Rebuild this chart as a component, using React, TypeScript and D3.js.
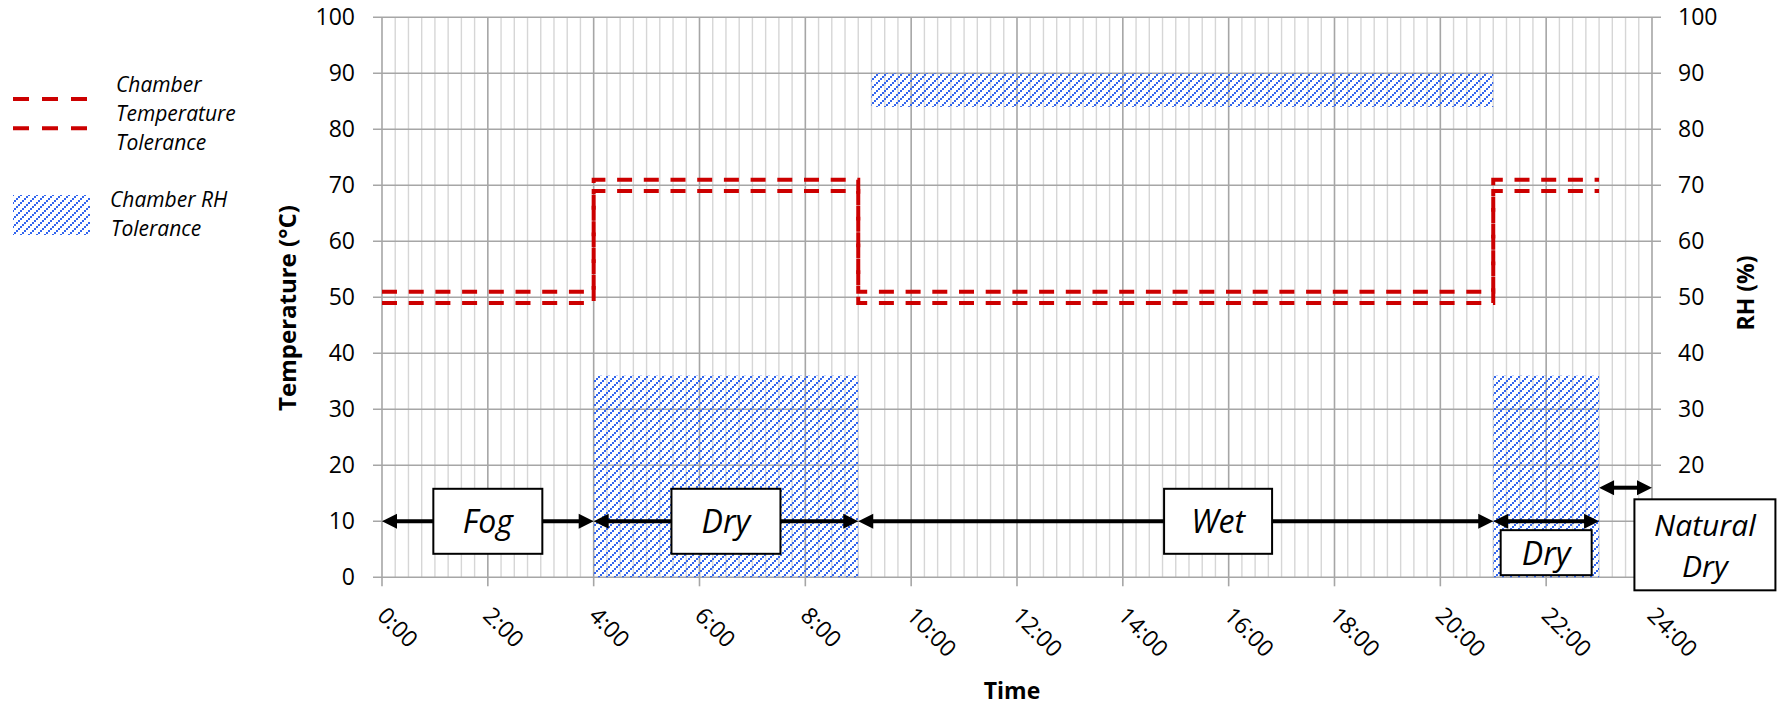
import React from 'react';
import * as d3 from 'd3';

// ---- data ----
const xTickHours = [0, 2, 4, 6, 8, 10, 12, 14, 16, 18, 20, 22, 24];
const xTickLabels = ['0:00', '2:00', '4:00', '6:00', '8:00', '10:00', '12:00', '14:00', '16:00', '18:00', '20:00', '22:00', '24:00'];
const yTicks = [0, 10, 20, 30, 40, 50, 60, 70, 80, 90, 100];

const tempTimes = [0, 4, 4, 9, 9, 21, 21, 23];
const tempUpper = [51, 51, 71, 71, 51, 51, 71, 71];
const tempLower = [49, 49, 69, 69, 49, 49, 69, 69];

const rhStart = [4, 9.25, 21];
const rhEnd = [9, 21, 23];
const rhLow = [0, 84, 0];
const rhHigh = [36, 90, 36];

const phaseNames = ['Fog', 'Dry', 'Wet', 'Dry', 'Natural Dry'];
const phaseStart = [0, 4, 9, 21, 23];
const phaseEnd = [4, 9, 21, 23, 24];
const phaseLevel = [10, 10, 10, 10, 16];
const labelHour = [2, 6.5, 15.8, 22, 25];
const labelLevel = [10, 10, 10, 4.4, 5.8];

export default function App() {
  const W = 1781, H = 705;
  const x = d3.scaleLinear().domain([0, 24]).range([382, 1652]);
  const y = d3.scaleLinear().domain([0, 100]).range([577.3, 17.3]);
  const gridHours = d3.range(0, 24.001, 0.25);
  const font = "'Open Sans', sans-serif";

  const line = d3.line<number>().x((d, i) => x(tempTimes[i])).y(d => y(d));

  const boxSizes = [
    [109, 65], [109, 65], [108, 65], [91, 45], [141, 91],
  ];

  // the "Natural Dry" label box sits over the right axis and hides labels there
  const nd = phaseNames.length - 1;
  const ndTop = y(labelLevel[nd]) - boxSizes[nd][1] / 2;
  const ndBottom = y(labelLevel[nd]) + boxSizes[nd][1] / 2;
  const rightVisible = yTicks.filter(t => y(t) + 8 < ndTop || y(t) - 8 > ndBottom);

  const arrow = (x1: number, x2: number, yy: number, key: string) => {
    const hl = 15, hw = 7.5;
    return (
      <g key={key}>
        <line x1={x1 + hl - 2} x2={x2 - hl + 2} y1={yy} y2={yy} stroke="#000" strokeWidth={4} />
        <path d={`M${x1},${yy} L${x1 + hl},${yy - hw} L${x1 + hl},${yy + hw} Z`} fill="#000" />
        <path d={`M${x2},${yy} L${x2 - hl},${yy - hw} L${x2 - hl},${yy + hw} Z`} fill="#000" />
      </g>
    );
  };

  return (
    <svg width={W} height={H} style={{ position: 'absolute', left: 0, top: 0, background: '#fff' }}>
      <defs>
        <pattern id="hatch" patternUnits="userSpaceOnUse" width={8} height={8}>
          <rect x={0} y={6} width={2} height={2} fill="#3366ee" />
          <rect x={2} y={4} width={2} height={2} fill="#3366ee" />
          <rect x={4} y={2} width={2} height={2} fill="#3366ee" />
          <rect x={6} y={0} width={2} height={2} fill="#3366ee" />
        </pattern>
      </defs>

      {/* vertical grid */}
      {gridHours.map((h, i) => {
        const major = Math.abs(h / 2 - Math.round(h / 2)) < 1e-6;
        return (
          <line key={'vg' + i} x1={x(h)} x2={x(h)} y1={y(100)} y2={y(0)}
            stroke={major ? '#a6a6a6' : '#d6d6d6'} strokeWidth={major ? 1.6 : 1.4} />
        );
      })}
      {/* horizontal grid */}
      {yTicks.map(t => (
        <line key={'hg' + t} x1={x(0) - 9} x2={x(24) + 9} y1={y(t)} y2={y(t)} stroke="#a6a6a6" strokeWidth={1.6} />
      ))}
      {/* x ticks */}
      {xTickHours.map(h => (
        <line key={'xt' + h} x1={x(h)} x2={x(h)} y1={y(0)} y2={y(0) + 9} stroke="#a6a6a6" strokeWidth={1.6} />
      ))}

      {/* RH tolerance hatch */}
      {rhStart.map((s, i) => (
        <rect key={'rh' + i} x={x(s)} width={x(rhEnd[i]) - x(s)} y={y(rhHigh[i])} height={y(rhLow[i]) - y(rhHigh[i])} fill="url(#hatch)" />
      ))}

      {/* temperature tolerance */}
      <path d={line(tempUpper) || ''} fill="none" stroke="#cc0000" strokeWidth={4} strokeDasharray="15 11.7" />
      <path d={line(tempLower) || ''} fill="none" stroke="#cc0000" strokeWidth={4} strokeDasharray="15 11.7" />

      {/* left y labels */}
      {yTicks.map(t => (
        <text key={'yl' + t} x={355} y={y(t) + 8} textAnchor="end" fontFamily={font} fontSize={23} fill="#000">{t}</text>
      ))}
      {/* right y labels */}
      {rightVisible.map(t => (
        <text key={'yr' + t} x={1678} y={y(t) + 8} textAnchor="start" fontFamily={font} fontSize={23} fill="#000">{t}</text>
      ))}
      {/* x labels */}
      {xTickHours.map((h, i) => (
        <text key={'xl' + h} transform={`translate(${x(h) - 6},${617}) rotate(45)`} fontFamily={font} fontSize={23} fill="#000">{xTickLabels[i]}</text>
      ))}

      {/* phase arrows */}
      {phaseStart.map((s, i) => arrow(x(s), x(phaseEnd[i]), y(phaseLevel[i]), 'ar' + i))}

      {/* phase labels */}
      {phaseNames.map((n, i) => {
        const cx = x(labelHour[i]);
        const cy = y(labelLevel[i]);
        const [bw, bh] = boxSizes[i];
        const lines = n === 'Natural Dry' ? ['Natural', 'Dry'] : [n];
        const fs = lines.length > 1 ? 30 : 32;
        const lh = 41;
        const y0 = cy + 12 - ((lines.length - 1) / 2) * lh;
        return (
          <g key={'lb' + i}>
            <rect x={cx - bw / 2} y={cy - bh / 2} width={bw} height={bh} fill="#fff" stroke="#000" strokeWidth={2} />
            <text x={cx} y={y0} textAnchor="middle" fontFamily={font} fontStyle="italic" fontSize={fs} fill="#000">
              {lines.map((t, j) => (
                <tspan key={j} x={cx} dy={j === 0 ? 0 : lh}>{t}</tspan>
              ))}
            </text>
          </g>
        );
      })}

      {/* axis titles */}
      <text transform="translate(296,308) rotate(-90)" textAnchor="middle" fontFamily={font} fontWeight="bold" fontSize={24}>Temperature (°C)</text>
      <text transform="translate(1754,293) rotate(-90)" textAnchor="middle" fontFamily={font} fontWeight="bold" fontSize={23}>RH (%)</text>
      <text x={1012} y={699} textAnchor="middle" fontFamily={font} fontWeight="bold" fontSize={23}>Time</text>

      {/* legend */}
      <line x1={13} x2={88} y1={99} y2={99} stroke="#cc0000" strokeWidth={4} strokeDasharray="16 13" />
      <line x1={13} x2={88} y1={128.3} y2={128.3} stroke="#cc0000" strokeWidth={4} strokeDasharray="16 13" />
      <text x={116} y={92} fontFamily={font} fontStyle="italic" fontSize={21}>
        <tspan x={116} dy={0}>Chamber</tspan>
        <tspan x={116} dy={29}>Temperature</tspan>
        <tspan x={116} dy={29}>Tolerance</tspan>
      </text>
      <rect x={13} y={195} width={77} height={40} fill="url(#hatch)" />
      <text x={110} y={207} fontFamily={font} fontStyle="italic" fontSize={21}>
        <tspan x={110} dy={0}>Chamber RH</tspan>
        <tspan x={111} dy={29}>Tolerance</tspan>
      </text>
    </svg>
  );
}
